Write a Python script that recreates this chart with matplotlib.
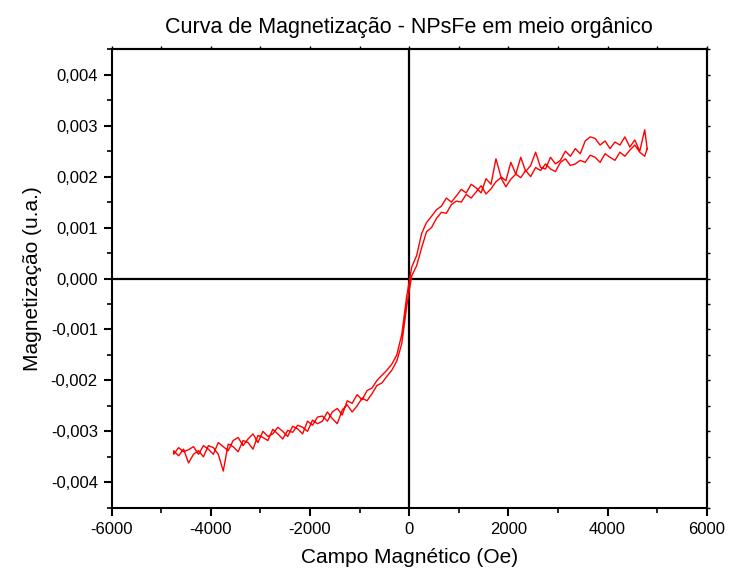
import matplotlib
matplotlib.use('Agg')
import matplotlib.pyplot as plt
from matplotlib.ticker import MultipleLocator, FuncFormatter, NullFormatter

plt.rcParams['font.family'] = ['Liberation Sans', 'DejaVu Sans']

# campo (Oe) e as duas ramas do laço (u.a.)
field = [-4750, -4650, -4550, -4450, -4350, -4250, -4150, -4050, -3950, -3850,
         -3750, -3650, -3550, -3450, -3350, -3250, -3150, -3050, -2950, -2850,
         -2750, -2650, -2550, -2450, -2350, -2250, -2150, -2050, -1950, -1850,
         -1750, -1650, -1550, -1450, -1350, -1250, -1150, -1050, -950, -850,
         -750, -650, -550, -450, -350, -250, -150, -50, 50, 150,
         250, 350, 450, 550, 650, 750, 850, 950, 1050, 1150,
         1250, 1350, 1450, 1550, 1650, 1750, 1850, 1950, 2050, 2150,
         2250, 2350, 2450, 2550, 2650, 2750, 2850, 2950, 3050, 3150,
         3250, 3350, 3450, 3550, 3650, 3750, 3850, 3950, 4050, 4150,
         4250, 4350, 4450, 4550, 4650, 4750, 4800]

branch_up = [-0.00338, -0.00348, -0.00335, -0.00362, -0.00345, -0.00338, -0.00350, -0.00328, -0.00332, -0.00345,
             -0.00378, -0.00325, -0.00330, -0.00340, -0.00318, -0.00322, -0.00335, -0.00308, -0.00312, -0.00318,
             -0.00296, -0.00305, -0.00315, -0.00298, -0.00302, -0.00288, -0.00292, -0.00300, -0.00278, -0.00285,
             -0.00280, -0.00262, -0.00275, -0.00285, -0.00258, -0.00248, -0.00262, -0.00250, -0.00235, -0.00240,
             -0.00226, -0.00210, -0.00205, -0.00192, -0.00180, -0.00162, -0.00128, -0.00055, 0.00005, 0.00025,
             0.00060, 0.00092, 0.00100, 0.00118, 0.00130, 0.00128, 0.00145, 0.00152, 0.00150, 0.00165,
             0.00158, 0.00170, 0.00182, 0.00166, 0.00176, 0.00190, 0.00198, 0.00180, 0.00195, 0.00205,
             0.00198, 0.00212, 0.00200, 0.00218, 0.00212, 0.00225, 0.00215, 0.00210, 0.00228, 0.00235,
             0.00222, 0.00225, 0.00232, 0.00228, 0.00242, 0.00238, 0.00228, 0.00245, 0.00238, 0.00232,
             0.00248, 0.00240, 0.00252, 0.00262, 0.00248, 0.00240, 0.00255]

branch_down = [-0.00345, -0.00332, -0.00340, -0.00336, -0.00330, -0.00345, -0.00328, -0.00335, -0.00345, -0.00322,
               -0.00330, -0.00338, -0.00318, -0.00312, -0.00328, -0.00315, -0.00305, -0.00322, -0.00300, -0.00310,
               -0.00305, -0.00292, -0.00300, -0.00310, -0.00290, -0.00295, -0.00305, -0.00280, -0.00288, -0.00272,
               -0.00270, -0.00280, -0.00262, -0.00255, -0.00268, -0.00240, -0.00245, -0.00228, -0.00238, -0.00220,
               -0.00215, -0.00200, -0.00190, -0.00180, -0.00168, -0.00150, -0.00110, -0.00035, 0.00022, 0.00045,
               0.00088, 0.00110, 0.00122, 0.00135, 0.00142, 0.00158, 0.00150, 0.00162, 0.00175, 0.00168,
               0.00185, 0.00178, 0.00168, 0.00196, 0.00185, 0.00235, 0.00200, 0.00192, 0.00228, 0.00205,
               0.00238, 0.00210, 0.00222, 0.00248, 0.00218, 0.00215, 0.00238, 0.00225, 0.00232, 0.00250,
               0.00240, 0.00255, 0.00245, 0.00270, 0.00278, 0.00275, 0.00262, 0.00270, 0.00255, 0.00268,
               0.00262, 0.00278, 0.00258, 0.00272, 0.00250, 0.00292, 0.00255]

fig = plt.figure(figsize=(7.29, 5.77), dpi=100)
ax = fig.add_axes([0.1532, 0.120, 0.8162, 0.7946])

# laço: desce de +H ate -H e volta
ax.plot(field[::-1] + field, branch_down[::-1] + branch_up, color='red', lw=1.0, zorder=3)

ax.axhline(0, color='black', lw=1.6, zorder=2)
ax.axvline(0, color='black', lw=1.6, zorder=2)

ax.set_xlim(-6000, 6000)
ax.set_ylim(-0.0045, 0.0045)
ax.xaxis.set_major_locator(MultipleLocator(2000))
ax.xaxis.set_minor_locator(MultipleLocator(1000))
ax.yaxis.set_major_locator(MultipleLocator(0.001))
ax.yaxis.set_minor_locator(MultipleLocator(0.0005))
ax.yaxis.set_major_formatter(FuncFormatter(lambda v, p: f'{v:.3f}'.replace('.', ',').replace('-0,000', '0,000')))
ax.xaxis.set_major_formatter(FuncFormatter(lambda v, p: f'{v:.0f}'))

for s in ax.spines.values():
    s.set_linewidth(1.5)
ax.tick_params(which='major', direction='out', length=6, width=1.5, labelsize=12, pad=4)
ax.tick_params(which='minor', direction='out', length=3.5, width=1.2)

# marcas curtas em cima e à direita
top = ax.secondary_xaxis('top')
top.xaxis.set_major_locator(MultipleLocator(1000))
top.xaxis.set_major_formatter(NullFormatter())
top.tick_params(direction='out', length=2, width=1.0)
right = ax.secondary_yaxis('right')
right.yaxis.set_major_locator(MultipleLocator(0.0005))
right.yaxis.set_major_formatter(NullFormatter())
right.tick_params(direction='out', length=2, width=1.0)
for sec in (top, right):
    for s in sec.spines.values():
        s.set_linewidth(1.5)

ax.set_title('Curva de Magnetização - NPsFe em meio orgânico', fontsize=15.5, pad=12)
ax.set_xlabel('Campo Magnético (Oe)', fontsize=15, labelpad=8)
ax.set_ylabel('Magnetização (u.a.)', fontsize=15, labelpad=6)

fig.savefig('out.png', dpi=100)
